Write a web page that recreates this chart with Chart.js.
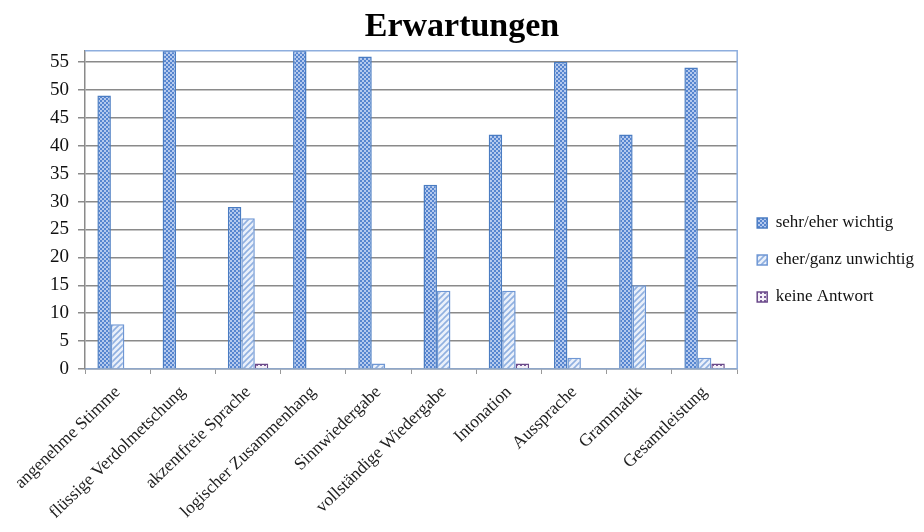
<!DOCTYPE html>
<html>
<head>
<meta charset="utf-8">
<script src="https://cdn.jsdelivr.net/npm/chart.js@4.4.1/dist/chart.umd.min.js"></script>
<style>
  html, body { margin: 0; padding: 0; background: #fff; }
</style>
</head>
<body>
<canvas id="erwartungen-chart" width="924" height="532"></canvas>
<script>
// Categories and answer counts
var kategorien = ['angenehme Stimme', 'flüssige Verdolmetschung', 'akzentfreie Sprache',
    'logischer Zusammenhang', 'Sinnwiedergabe', 'vollständige Wiedergabe',
    'Intonation', 'Aussprache', 'Grammatik', 'Gesamtleistung'];
var wichtig   = [49, 57, 29, 57, 56, 33, 42, 55, 42, 54];
var unwichtig = [8, 0, 27, 0, 1, 14, 14, 2, 15, 2];
var keineAntwort = [0, 0, 1, 0, 0, 0, 1, 0, 0, 1];
var serienNamen = ['sehr/eher wichtig', 'eher/ganz unwichtig', 'keine Antwort'];

// Small fill patterns for the bars
function makePattern(size, paint) {
    var c = document.createElement('canvas');
    c.width = size; c.height = size;
    var g = c.getContext('2d');
    paint(g, size);
    return c.getContext('2d').createPattern(c, 'repeat');
}

var checkBlue = makePattern(4, function (g) {
    g.fillStyle = '#b4c9ee';
    g.fillRect(0, 0, 4, 4);
    g.fillStyle = '#5685cf';
    g.fillRect(0, 0, 2, 2);
    g.fillRect(2, 2, 2, 2);
});

var hatchBlue = makePattern(6, function (g) {
    g.fillStyle = '#eaf0fa';
    g.fillRect(0, 0, 6, 6);
    g.strokeStyle = '#90b0e0';
    g.lineWidth = 1.6;
    g.beginPath();
    g.moveTo(0, 6); g.lineTo(6, 0);
    g.moveTo(-1, 1); g.lineTo(1, -1);
    g.moveTo(5, 7); g.lineTo(7, 5);
    g.stroke();
});

var dotPurple = makePattern(4, function (g) {
    g.fillStyle = '#f4f0f8';
    g.fillRect(0, 0, 4, 4);
    g.fillStyle = '#7a5a98';
    g.fillRect(0, 0, 2, 2);
});

// Thin blue frame around the plot area
var plotFrame = {
    id: 'plotFrame',
    afterDraw: function (chart) {
        var a = chart.chartArea, ctx = chart.ctx;
        ctx.save();
        ctx.strokeStyle = '#8eaede';
        ctx.lineWidth = 1.5;
        ctx.beginPath();
        ctx.moveTo(a.left, a.top);
        ctx.lineTo(a.right, a.top);
        ctx.lineTo(a.right, a.bottom);
        ctx.stroke();
        ctx.restore();
    }
};

var ctx = document.getElementById('erwartungen-chart');

var chartData = {
    labels: kategorien,
    datasets: [{
        label: serienNamen[0],
        data: wichtig,
        backgroundColor: checkBlue,
        borderColor: '#4a7cc2',
        borderWidth: 1.5
    }, {
        label: serienNamen[1],
        data: unwichtig,
        backgroundColor: hatchBlue,
        borderColor: '#6f97d4',
        borderWidth: 1.5
    }, {
        label: serienNamen[2],
        data: keineAntwort,
        backgroundColor: dotPurple,
        borderColor: '#6b4a8a',
        borderWidth: 1.5
    }]
};

var chartOptions = {
    responsive: false,
    animation: false,
    layout: { padding: { top: 2, right: 0, left: 0, bottom: 0 } },
    datasets: {
        bar: { categoryPercentage: 0.62, barPercentage: 1.0 }
    },
    plugins: {
        title: {
            display: true,
            text: 'Erwartungen',
            color: '#000',
            font: { family: 'Liberation Serif', size: 34, weight: 'bold' },
            padding: { top: 5, bottom: 3 }
        },
        legend: {
            position: 'right',
            align: 'start',
            maxWidth: 187,
            title: { display: true, text: ' ', padding: { top: 108, bottom: 70 } },
            labels: {
                color: '#111',
                font: { family: 'Liberation Serif', size: 17 },
                boxWidth: 10,
                boxHeight: 10,
                padding: 20
            }
        },
        tooltip: { enabled: false }
    },
    scales: {
        x: {
            afterFit: function (scale) { scale.height = 163; },
            grid: {
                offset: true,
                drawOnChartArea: false,
                color: '#999',
                tickLength: 5
            },
            border: { color: '#8ea6c8', width: 1.5 },
            ticks: {
                color: '#222',
                padding: 8,
                maxRotation: 44,
                minRotation: 44,
                autoSkip: false,
                font: { family: 'Liberation Serif', size: 17.5 }
            }
        },
        y: {
            min: 0,
            max: 57,
            afterFit: function (scale) { scale.width = 85; },
            grid: {
                color: '#8a8a8a',
                lineWidth: 1.5,
                tickLength: 7
            },
            border: { color: '#8a8a8a', width: 1.5 },
            ticks: {
                stepSize: 5,
                includeBounds: false,
                color: '#111',
                padding: 9,
                font: { family: 'Liberation Serif', size: 19 }
            }
        }
    }
};

var config = {
    type: 'bar',
    data: chartData,
    options: chartOptions,
    plugins: [plotFrame]
};

var erwartungenChart = new Chart(ctx, config);
</script>
</body>
</html>
